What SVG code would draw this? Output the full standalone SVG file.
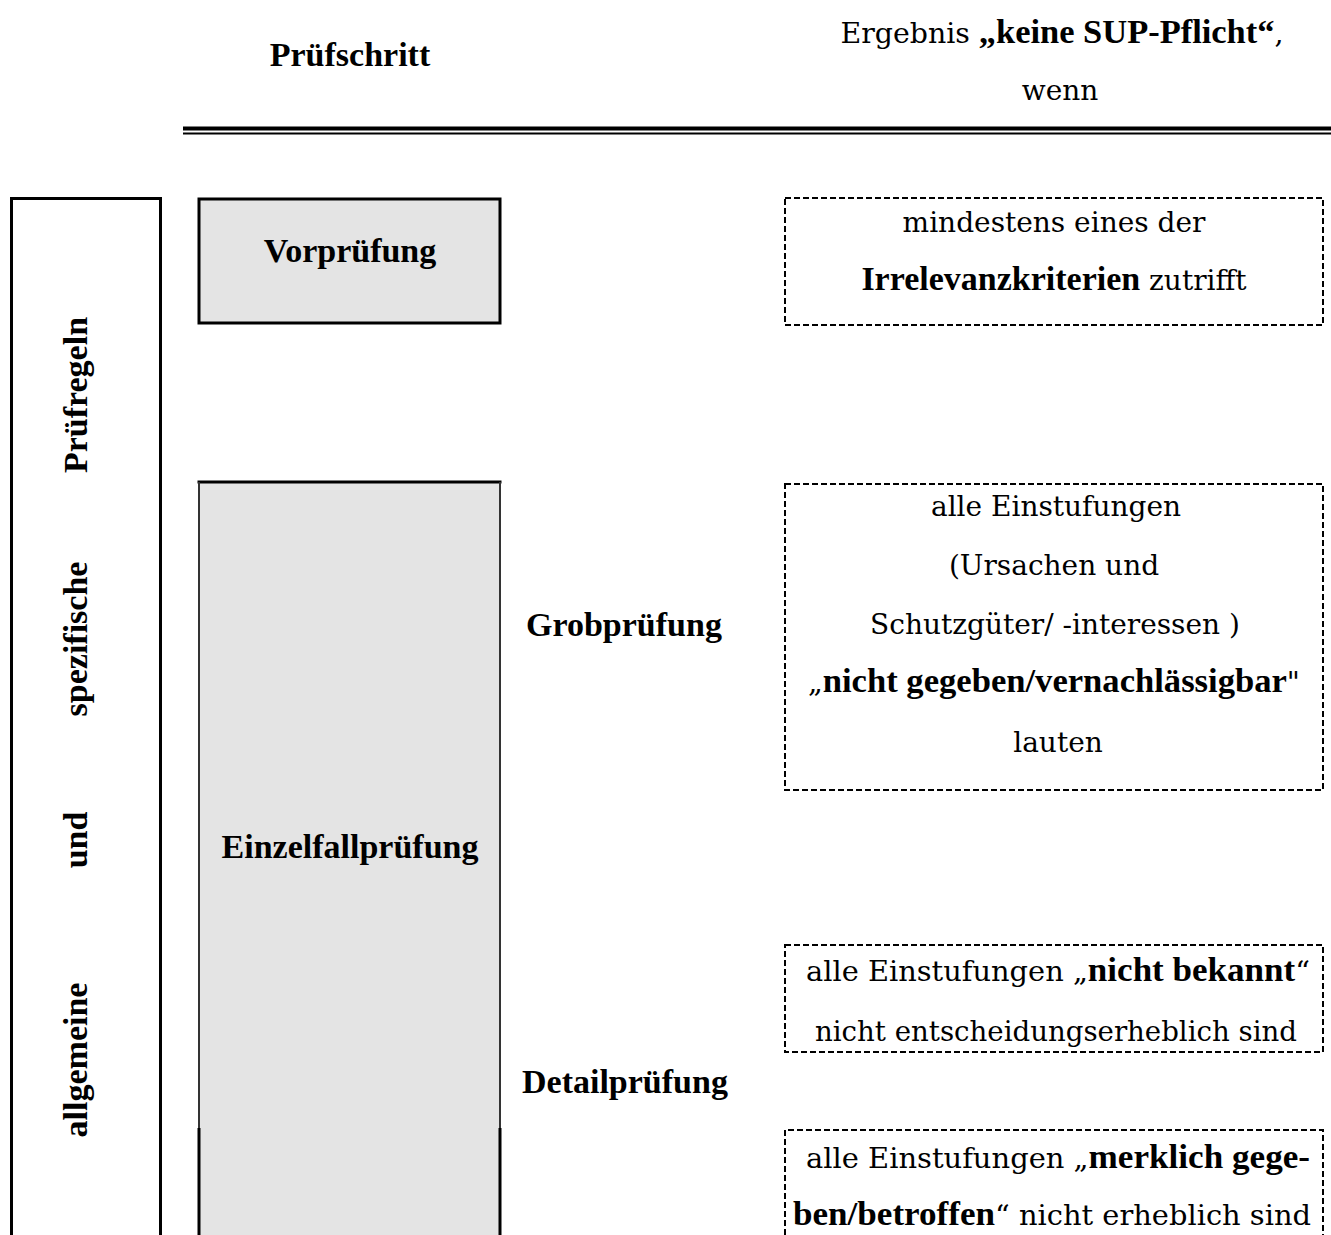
<svg xmlns="http://www.w3.org/2000/svg" width="1331" height="1235" viewBox="0 0 1331 1235">
<style>
.r{font-family:"DejaVu Serif","Liberation Serif",serif;font-size:28px;fill:#000}
.b{font-family:"Liberation Serif","DejaVu Serif",serif;font-weight:bold;font-size:34px;fill:#000}
.bb{font-weight:bold;font-family:"Liberation Serif","DejaVu Serif",serif;font-size:34px}
.solid{fill:none;stroke:#000;stroke-width:3}
.dash{fill:none;stroke:#000;stroke-width:2;stroke-dasharray:6 3}
.grey{fill:#e4e4e4}
</style>
<rect width="1331" height="1235" fill="#fff"/>
<g id="header">
<text class="b" x="350" y="66" text-anchor="middle">Prüfschritt</text>
<text class="r" x="1062" y="43" text-anchor="middle" textLength="443" lengthAdjust="spacingAndGlyphs">Ergebnis <tspan class="bb">„keine SUP-Pflicht“</tspan>,</text>
<text class="r" x="1060" y="100" text-anchor="middle">wenn</text>
<line x1="183" y1="128.5" x2="1331" y2="128.5" stroke="#000" stroke-width="4"/>
<line x1="183" y1="133.5" x2="1331" y2="133.5" stroke="#000" stroke-width="2"/>
</g>
<g id="rules">
<path class="solid" d="M11.5,1235 V198.5 H160.5 V1235"/>
<text class="b" transform="translate(87,395) rotate(-90)" text-anchor="middle">Prüfregeln</text>
<text class="b" transform="translate(87,639) rotate(-90)" text-anchor="middle">spezifische</text>
<text class="b" transform="translate(87,840) rotate(-90)" text-anchor="middle">und</text>
<text class="b" transform="translate(87,1060) rotate(-90)" text-anchor="middle">allgemeine</text>
</g>
<g id="vorpruefung">
<rect class="grey" x="199" y="199" width="301" height="124"/>
<rect class="solid" x="199" y="199" width="301" height="124"/>
<text class="b" x="350" y="262" text-anchor="middle">Vorprüfung</text>
</g>
<g id="einzelfall">
<rect class="grey" x="199" y="482" width="301" height="753"/>
<line x1="197.5" y1="482" x2="501.5" y2="482" stroke="#000" stroke-width="3"/>
<path d="M199,482 V1128 M500,482 V1128" stroke="#333" stroke-width="2" fill="none"/>
<path d="M199,1128 V1235 M500,1128 V1235" stroke="#000" stroke-width="3" fill="none"/>
<text class="b" x="350" y="858" text-anchor="middle">Einzelfallprüfung</text>
</g>
<g id="grob">
<text class="b" x="526" y="636">Grobprüfung</text>
</g>
<g id="detail">
<text class="b" x="522" y="1093">Detailprüfung</text>
</g>
<g id="res-vor">
<rect class="dash" x="785" y="198" width="538" height="127"/>
<text class="r" x="1054" y="232" text-anchor="middle">mindestens eines der</text>
<text class="r" x="1054" y="290" text-anchor="middle"><tspan class="bb">Irrelevanzkriterien</tspan> zutrifft</text>
</g>
<g id="res-grob">
<rect class="dash" x="785" y="484" width="538" height="306"/>
<text class="r" x="1056" y="516" text-anchor="middle">alle Einstufungen</text>
<text class="r" x="1054" y="575" text-anchor="middle">(Ursachen und</text>
<text class="r" x="1055" y="634" text-anchor="middle">Schutzgüter/ -interessen )</text>
<text class="r" x="1054" y="692" text-anchor="middle" textLength="492" lengthAdjust="spacingAndGlyphs">„<tspan class="bb">nicht gegeben/vernachlässigbar</tspan>"</text>
<text class="r" x="1058" y="752" text-anchor="middle">lauten</text>
</g>
<g id="res-detail1">
<rect class="dash" x="785" y="945" width="538" height="107"/>
<text class="r" x="1058" y="981" text-anchor="middle" textLength="504" lengthAdjust="spacingAndGlyphs">alle Einstufungen „<tspan class="bb">nicht bekannt</tspan>“</text>
<text class="r" x="1056" y="1041" text-anchor="middle" textLength="482" lengthAdjust="spacingAndGlyphs">nicht entscheidungserheblich sind</text>
</g>
<g id="res-detail2">
<path class="dash" d="M785,1235 V1130 H1323 V1235"/>
<text class="r" x="1058" y="1168" text-anchor="middle" textLength="504" lengthAdjust="spacingAndGlyphs">alle Einstufungen „<tspan class="bb">merklich gege-</tspan></text>
<text class="r" x="1052" y="1225" text-anchor="middle" textLength="518" lengthAdjust="spacingAndGlyphs"><tspan class="bb">ben/betroffen</tspan>“ nicht erheblich sind</text>
</g>
<g id="connectors"></g>
</svg>
